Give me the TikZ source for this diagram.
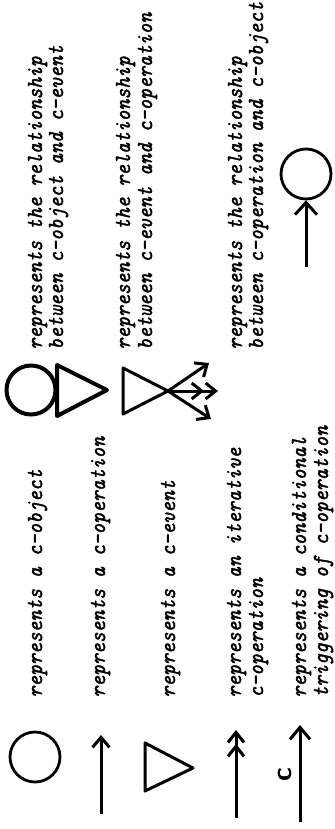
\documentclass[tikz,border=0pt]{standalone}
\usepackage{fontspec}
\newfontfamily\handfont{lmmono10-italic}[Extension=.otf,FakeBold=1.6,FakeStretch=0.9]
\usetikzlibrary{arrows.meta}
\tikzset{
  desc/.style={rotate=90,anchor=base west,inner sep=0pt,
    font=\fontsize{11.5}{13}\selectfont\handfont},
  obj/.style={circle,draw,line width=1.4pt,minimum size=25pt,inner sep=0pt},
  sym/.style={line width=1.5pt,line join=round},
  heavy/.style={line width=2pt,line join=round},
  tip/.style={-{Straight Barb[length=5pt,width=8.5pt]}},
  dtip/.style={-{Straight Barb[length=5pt,width=8pt,sep=0pt]Straight Barb[length=5pt,width=8pt]}},
}
\begin{document}
\begin{tikzpicture}[x=0.5pt,y=-0.5pt]
        \useasboundingbox (0,0) rectangle (334,829);
        %c-object
        \node[obj] (obj) at (35,757) {};
        \node[desc] (tobj) at (42,698) {represents a c-object};
        %c-operation
        \coordinate (opr tail) at (101,814);
        \coordinate (opr head) at (101,735);
        \draw[sym,tip] (opr tail) -- (opr head);
        \node[desc] (topr) at (105,698) {represents a c-operation};
        %c-event
        \draw[sym] (145,743) -- (145,791) -- (193,768) -- cycle;
        \node[desc] (tevt) at (175,698) {represents a c-event};
        %iterative c-operation
        \coordinate (itr tail) at (236,818);
        \coordinate (itr head) at (236,730);
        \draw[sym,dtip] (itr tail) -- (itr head);
        \node[desc] (titr) at (241,698) {represents an iterative};
        \node[desc] (titr2) at (263,698) {c-operation};
        %conditional triggering
        \coordinate (cnd tail) at (300,822);
        \coordinate (cnd head) at (300,725);
        \draw[sym,-{Straight Barb[length=6pt,width=10pt]}] (cnd tail) -- (cnd head);
        \node[rotate=90,inner sep=0pt,font=\fontsize{14}{14}\selectfont\sffamily\bfseries] (clbl) at (285,775) {c};
        \node[desc] (tcnd) at (306,698) {represents a conditional};
        \node[desc] (tcnd2) at (328,698) {triggering of c-operation};

        %c-object and c-event
        \node[obj,line width=2pt,minimum size=24.5pt] (obj2) at (31,390) {};
        \draw[heavy] (57,365) -- (57,416) -- (107,390) -- cycle;
        \node[desc] (rel1) at (42,350) {represents the relationship};
        \node[desc] (rel1b) at (63,350) {between c-object and c-event};
        %c-event and c-operation
        \draw[sym] (123,368) -- (123,414) -- (168,391) -- cycle;
        \coordinate (apex) at (168,391);
        \coordinate (up) at (209,363);
        \coordinate (mid) at (218,391);
        \coordinate (down) at (211,419);
        \draw[sym,tip] (apex) -- (up);
        \draw[sym,dtip] (apex) -- (mid);
        \draw[sym,tip] (apex) -- (down);
        \node[desc] (rel2) at (130,350) {represents the relationship};
        \node[desc] (rel2b) at (152,350) {between c-event and c-operation};
        %c-operation and c-object
        \node[obj] (obj3) at (306,174) {};
        \coordinate (rel tail) at (306,267);
        \draw[sym,-{Straight Barb[length=6pt,width=11pt]}] (rel tail) -- (obj3.south);
        \node[desc] (rel3) at (242,350) {represents the relationship};
        \node[desc] (rel3b) at (263,350) {between c-operation and c-object};
\end{tikzpicture}
\end{document}
